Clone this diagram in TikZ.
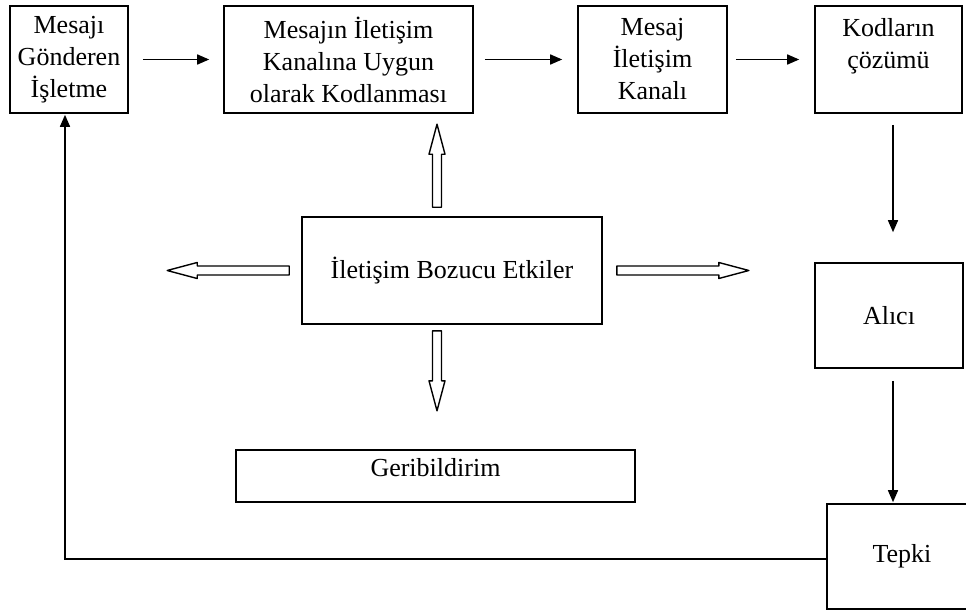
\documentclass[tikz,border=0pt]{standalone}
\usepackage{fontspec}
\setmainfont{Liberation Serif}
\usetikzlibrary{arrows.meta}
\tikzset{
  box/.style={draw, line width=1.6pt, inner sep=0pt, align=center, font=\fontsize{26}{32}\selectfont},
  conn/.style={line width=1.5pt, -{Triangle[length=12pt,width=10pt]}},
  pics/hollow/.style={code={
    \draw[line width=1.4pt, line join=round] (0,-4.5) -- ({#1-30},-4.5) -- ({#1-30},-8) -- (#1,0) -- ({#1-30},8) -- ({#1-30},4.5) -- (0,4.5) -- cycle;}}
}
\begin{document}
\begin{tikzpicture}[x=1pt,y=1pt]
\useasboundingbox (0,0) rectangle (966,-615);
% top row
\node[box, minimum width=118pt, minimum height=107pt] (A) at (69,-59.5) {Mesajı\\Gönderen\\İşletme};
\node[box, minimum width=249pt, minimum height=107pt] (B) at (348.5,-59.5) {Mesajın İletişim\\Kanalına Uygun\\olarak Kodlanması};
\node[box, minimum width=149pt, minimum height=107pt] (C) at (652.5,-59.5) {Mesaj\\İletişim\\Kanalı};
\node[box, minimum width=147pt, minimum height=107pt] (D) at (888.5,-59.5) {Kodların\\çözümü\\\phantom{x}};
% middle
\node[box, minimum width=300pt, minimum height=107pt] (E) at (452,-270.5) {İletişim Bozucu Etkiler};
\node[box, minimum width=148pt, minimum height=105pt] (R) at (889,-315.5) {Alıcı};
\node[box, minimum width=399pt, minimum height=52pt, text height=17pt, text depth=17pt] (F) at (435.5,-476) {Geribildirim};
\node[box, minimum width=150pt, minimum height=105pt] (T) at (902,-556.5) {Tepki};
% flow connectors
\draw[conn, shorten <=14pt, shorten >=14pt] (A.east) -- (B.west);
\draw[conn, shorten <=11pt, shorten >=15pt] (B.east) -- (C.west);
\draw[conn, shorten <=8pt, shorten >=15pt] (C.east) -- (D.west);
\draw[conn, shorten <=11pt, shorten >=30pt] ([xshift=4.5pt]D.south) -- ([xshift=4.5pt]D.south |- R.north);
\draw[conn, shorten <=12pt, shorten >=1pt] ([xshift=4pt]R.south) -- ([xshift=4pt]R.south |- T.north);
\draw[conn, shorten >=1pt] ([yshift=-2.5pt]T.west) -- (65,-559) -- (A.south -| 65,0);
% hollow arrows from the disturbance box
\pic[rotate=90] at ([yshift=9pt]E.north -| 437,0) {hollow=83};
\pic[rotate=-90] at ([yshift=-6pt]E.south -| 437,0) {hollow=80};
\pic[rotate=180] at ([xshift=-12pt]E.west) {hollow=122};
\pic at ([xshift=14pt]E.east) {hollow=132};
\end{tikzpicture}
\end{document}
